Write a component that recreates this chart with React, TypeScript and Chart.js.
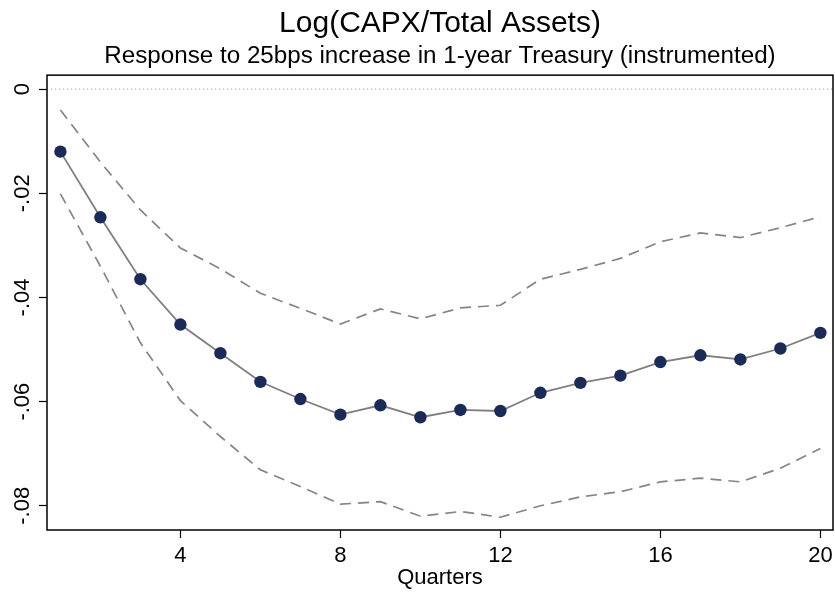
import { useEffect, useRef } from "react";
import { Chart, registerables } from "chart.js";

Chart.register(...registerables);

const quarters = [1, 2, 3, 4, 5, 6, 7, 8, 9, 10, 11, 12, 13, 14, 15, 16, 17, 18, 19, 20];
const estimate = [
  -0.012, -0.0246, -0.0365, -0.0452, -0.0507, -0.0562, -0.0595, -0.0625, -0.0607, -0.063,
  -0.0616, -0.0618, -0.0583, -0.0564, -0.055, -0.0524, -0.0511, -0.0519, -0.0498, -0.0468,
];
const upperBand = [
  -0.004, -0.014, -0.0232, -0.0305, -0.0345, -0.0392, -0.0421, -0.0451, -0.0422, -0.0441,
  -0.042, -0.0415, -0.0365, -0.0346, -0.0325, -0.0293, -0.0276, -0.0285, -0.0266, -0.0245,
];
const lowerBand = [
  -0.0201, -0.034, -0.0487, -0.0598, -0.0667, -0.0731, -0.0763, -0.0797, -0.0792, -0.082,
  -0.0811, -0.0822, -0.08, -0.0783, -0.0773, -0.0754, -0.0747, -0.0754, -0.0728, -0.069,
];
const xTickValues = [4, 8, 12, 16, 20];
const yTickValues = [0, -0.02, -0.04, -0.06, -0.08];
const yTickLabels = ["0", "-.02", "-.04", "-.06", "-.08"];
const titleText = "Log(CAPX/Total Assets)";
const subtitleText = "Response to 25bps increase in 1-year Treasury (instrumented)";
const xAxisTitle = "Quarters";
const xMin = 0.665;
const xMax = 20.315;
const yMin = -0.08465;
const yMax = 0.00269;

const FONT = "'Liberation Sans', Arial, Helvetica, sans-serif";

const toPoints = (vals: number[]) => quarters.map((q, i) => ({ x: q, y: vals[i] }));

const noPadding = () => ({ left: 0, right: 0, top: 0, bottom: 0 });

const framePlugin = {
  id: "stataFrame",
  beforeDatasetsDraw(chart: any) {
    const { ctx, chartArea: a, scales } = chart;
    const yz = scales.y.getPixelForValue(0);
    ctx.save();
    ctx.strokeStyle = "#b4b4b4";
    ctx.lineWidth = 1.2;
    ctx.setLineDash([1.2, 2.8]);
    ctx.beginPath();
    ctx.moveTo(a.left + 4, yz);
    ctx.lineTo(a.right, yz);
    ctx.stroke();
    ctx.restore();
  },
  afterDraw(chart: any) {
    const { ctx, chartArea: a } = chart;
    ctx.save();
    ctx.strokeStyle = "#000";
    ctx.lineWidth = 1.5;
    ctx.strokeRect(a.left, a.top, a.right - a.left, a.bottom - a.top);
    ctx.restore();
  },
};

export default function App() {
  const ref = useRef<HTMLCanvasElement | null>(null);

  useEffect(() => {
    if (!ref.current) return;
    Chart.defaults.font.family = FONT;
    const chart = new Chart(ref.current, {
      type: "line",
      data: {
        datasets: [
          {
            label: "Estimate",
            data: toPoints(estimate),
            borderColor: "#7f7f7f",
            borderWidth: 1.8,
            pointBackgroundColor: "#1b2a56",
            pointBorderColor: "#1b2a56",
            pointBorderWidth: 0,
            pointRadius: 6.2,
            tension: 0,
          },
          {
            label: "Upper",
            data: toPoints(upperBand),
            borderColor: "#858585",
            borderWidth: 1.7,
            borderDash: [11, 7],
            pointRadius: 0,
            tension: 0,
          },
          {
            label: "Lower",
            data: toPoints(lowerBand),
            borderColor: "#858585",
            borderWidth: 1.7,
            borderDash: [11, 7],
            pointRadius: 0,
            tension: 0,
          },
        ],
      },
      options: {
        responsive: false,
        animation: false,
        devicePixelRatio: 1,
        layout: { autoPadding: false, padding: { left: 0, right: 2, top: 0, bottom: 0 } },
        plugins: {
          legend: { display: false },
          tooltip: { enabled: false },
          title: {
            display: true,
            text: titleText,
            fullSize: false,
            color: "#000",
            font: { size: 30, weight: "normal", family: FONT, lineHeight: 1.2 },
            padding: { top: 5.5, bottom: 0 },
          },
          subtitle: {
            display: true,
            text: subtitleText,
            fullSize: false,
            color: "#000",
            font: { size: 24.2, weight: "normal", family: FONT, lineHeight: 1.2 },
            padding: { top: 0, bottom: 4.6 },
          },
        },
        scales: {
          x: {
            type: "linear",
            min: xMin,
            max: xMax,
            afterBuildTicks: (s: any) => {
              s.ticks = xTickValues.map((v) => ({ value: v }));
            },
            afterFit: (s: any) => {
              s.height = 62;
              s.paddingLeft = 0;
              s.paddingRight = 0;
              s.getPadding = noPadding;
            },
            grid: {
              display: true,
              drawOnChartArea: false,
              drawTicks: true,
              tickLength: 8,
              tickColor: "#000",
              tickWidth: 1.2,
            },
            border: { display: false },
            ticks: {
              color: "#000",
              font: { size: 22, family: FONT, lineHeight: 1.2 },
              padding: 4.4,
              maxRotation: 0,
              minRotation: 0,
              callback: (v: any) => String(v),
            },
            title: {
              display: true,
              text: xAxisTitle,
              color: "#000",
              font: { size: 22, family: FONT, lineHeight: 1.2 },
              padding: { top: 0, bottom: 1.1 },
            },
          },
          y: {
            type: "linear",
            min: yMin,
            max: yMax,
            afterBuildTicks: (s: any) => {
              s.ticks = yTickValues.map((v) => ({ value: v }));
            },
            afterFit: (s: any) => {
              s.width = 47;
              s.paddingTop = 0;
              s.paddingBottom = 0;
              s.getPadding = noPadding;
            },
            grid: {
              display: true,
              drawOnChartArea: false,
              drawTicks: true,
              tickLength: 8,
              tickColor: "#000",
              tickWidth: 1.2,
            },
            border: { display: false },
            ticks: {
              color: "#000",
              font: { size: 22, family: FONT, lineHeight: 1.2 },
              minRotation: 90,
              maxRotation: 90,
              crossAlign: "center",
              padding: -2.5,
              callback: (v: any) => {
                const i = yTickValues.findIndex((t) => Math.abs(t - Number(v)) < 1e-9);
                return i >= 0 ? yTickLabels[i] : "";
              },
            },
          },
        },
      },
      plugins: [framePlugin],
    } as any);
    return () => chart.destroy();
  }, []);

  return (
    <div style={{ position: "absolute", left: 0, top: 0, width: 835, height: 592, background: "#fff" }}>
      <canvas ref={ref} width={835} height={592} />
    </div>
  );
}
